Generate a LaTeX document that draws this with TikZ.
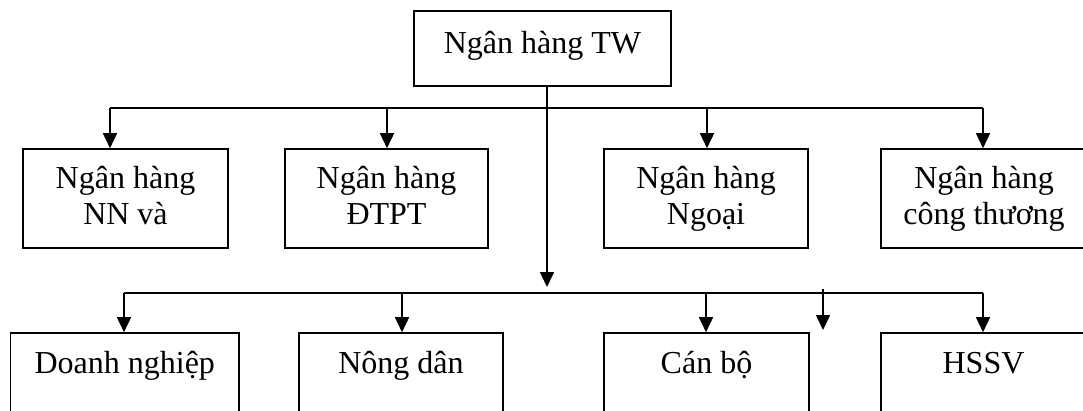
\documentclass[tikz,border=0pt]{standalone}
\usepackage{fontspec}
\setmainfont{Liberation Serif}
\usetikzlibrary{arrows.meta}
\begin{document}
\begin{tikzpicture}[x=1pt,y=-1pt,
  line width=1.6pt,
  box/.style={draw=black, line width=1.6pt, rectangle, inner sep=0pt},
  lbl/.style={anchor=base, inner sep=0pt, font=\fontsize{32}{36}\selectfont},
  arr/.style={-{Triangle[length=15pt,width=14pt]}}]
\useasboundingbox (0,0) rectangle (1083,410);
\renewcommand{\arraystretch}{1}
\setlength{\tabcolsep}{0pt}

% central bank
\node[box, minimum width=257pt, minimum height=75pt] (top) at (542.5,48.5) {};
\node[lbl] (topt) at (542.5,53) {Ngân hàng TW};

% commercial banks (the rightmost box runs past the page edge)
\node[box, minimum width=205pt, minimum height=99pt] (b1) at (125.5,198.5) {};
\node[box, minimum width=203pt, minimum height=99pt] (b2) at (386.5,198.5) {};
\node[box, minimum width=204pt, minimum height=99pt] (b3) at (706,198.5) {};
\node[box, minimum width=215pt, minimum height=99pt] (b4) at (988.5,198.5) {};
\node[lbl] (b1t) at (125.5,188) {\begin{tabular}[t]{c}Ngân hàng\\NN và\end{tabular}};
\node[lbl] (b2t) at (386.5,188) {\begin{tabular}[t]{c}Ngân hàng\\ĐTPT\end{tabular}};
\node[lbl] (b3t) at (706,188) {\begin{tabular}[t]{c}Ngân hàng\\Ngoại\end{tabular}};
\node[lbl] (b4t) at (984,188) {\begin{tabular}[t]{c}Ngân hàng\\công thương\end{tabular}};

% borrowers (boxes run past the bottom edge)
\node[box, minimum width=228.5pt, minimum height=110pt] (c1) at (124.75,388) {};
\node[box, minimum width=204pt, minimum height=110pt] (c2) at (401,388) {};
\node[box, minimum width=205pt, minimum height=110pt] (c3) at (706.5,388) {};
\node[box, minimum width=215pt, minimum height=110pt] (c4) at (988.5,388) {};
\node[lbl] (c1t) at (124.75,373) {Doanh nghiệp};
\node[lbl] (c2t) at (401,373) {Nông dân};
\node[lbl] (c3t) at (706.5,373) {Cán bộ};
\node[lbl] (c4t) at (983.5,373) {HSSV};

% junction points
\coordinate (j1) at (547,108);
\coordinate (j2) at (547,287);
\coordinate (a1) at (110,108);
\coordinate (a2) at (387,108);
\coordinate (a3) at (707,108);
\coordinate (a4) at (983,108);
\coordinate (d1) at (124,293);
\coordinate (d2) at (402,293);
\coordinate (d3) at (706,293);
\coordinate (d4) at (983,293);
\coordinate (e1) at (823,289);
\coordinate (e2) at (823,330);

% upper distribution
\draw (a1) -- (a4);
\draw[arr] (a1) -- (a1 |- b1.north);
\draw[arr] (a2) -- (a2 |- b2.north);
\draw[arr] (a3) -- (a3 |- b3.north);
\draw[arr] (a4) -- (a4 |- b4.north);
\draw[arr] (j1 |- top.south) -- (j2);

% lower distribution
\draw (d1) -- (d4);
\draw[arr] (d1) -- (d1 |- c1.north);
\draw[arr] (d2) -- (d2 |- c2.north);
\draw[arr] (d3) -- (d3 |- c3.north);
\draw[arr] (d4) -- (d4 |- c4.north);
\draw[arr] (e1) -- (e2);
\end{tikzpicture}
\end{document}
